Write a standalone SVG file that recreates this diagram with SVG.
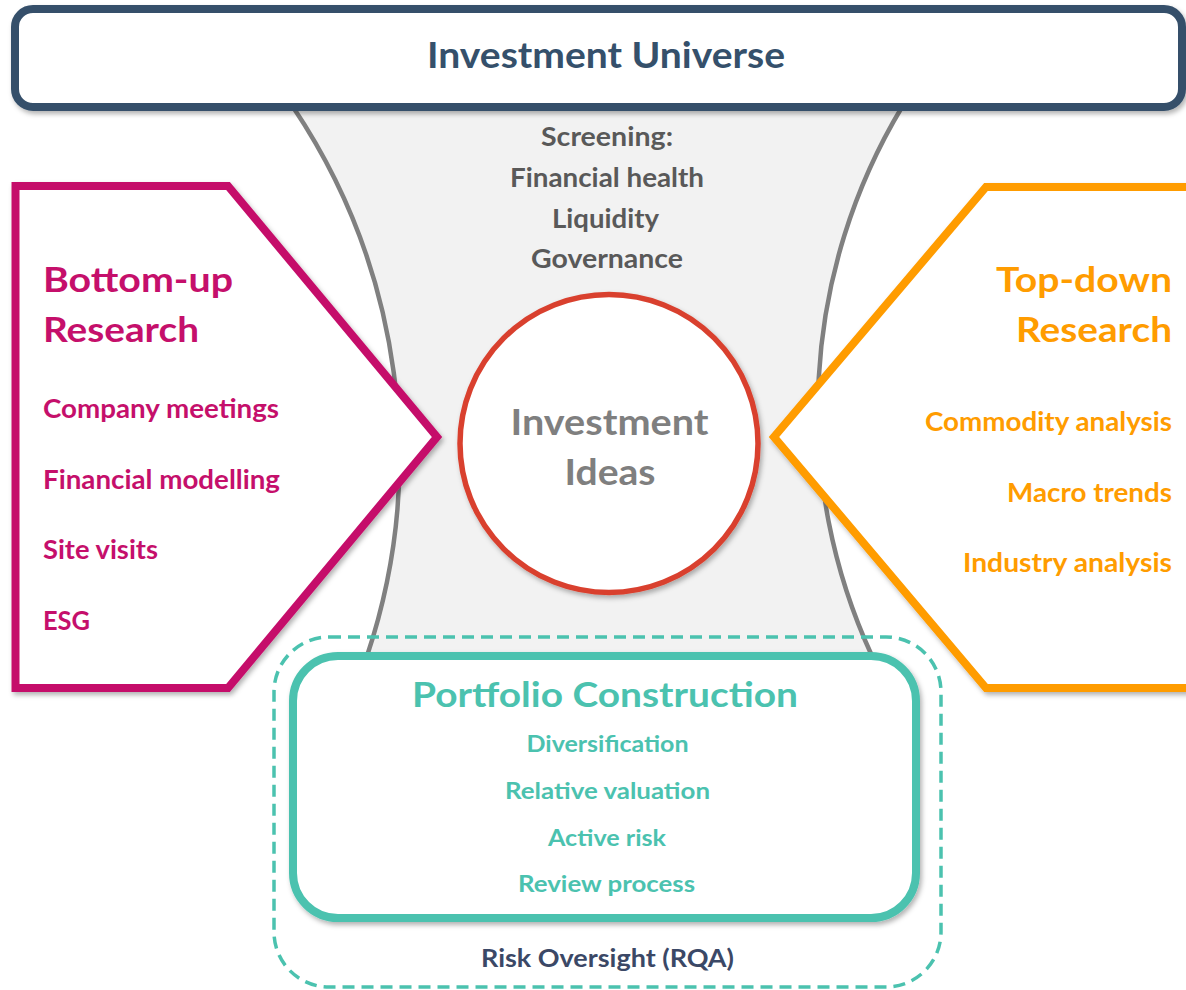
<svg xmlns="http://www.w3.org/2000/svg" width="1186" height="990" viewBox="0 0 1186 990">
  <defs>
    <filter id="shadow" x="-10%" y="-10%" width="125%" height="125%">
      <feDropShadow dx="2" dy="3" stdDeviation="2.5" flood-color="#000000" flood-opacity="0.3"/>
    </filter>
    <style>
      text { font-family: Lato, "Open Sans", "Liberation Sans", sans-serif; font-weight: 700; }
      .mid { text-anchor: middle; }
      .end { text-anchor: end; }
      .title { font-size: 34px; }
      .item { font-size: 26px; }
      .screen { font-size: 26px; fill: #595959; }
      .pc { font-size: 23px; fill: #4BC2AF; }
      .funnel-edge { fill: none; stroke: #808080; stroke-width: 4.5; }
    </style>
  </defs>

  <rect width="1186" height="990" fill="#FFFFFF"/>

  <!-- screening funnel between the universe bar and the portfolio box -->
  <g id="funnel">
    <path d="M293,107 A628,628 0 0 1 367,656 L872,656 A587,587 0 0 1 902,107 Z" fill="#F2F2F2"/>
    <path class="funnel-edge" d="M293,107 A628,628 0 0 1 367,656"/>
    <path class="funnel-edge" d="M872,656 A587,587 0 0 1 902,107"/>
    <text class="screen mid" x="607" y="146" textLength="132" lengthAdjust="spacingAndGlyphs">Screening:</text>
    <text class="screen mid" x="607" y="187" textLength="194" lengthAdjust="spacingAndGlyphs">Financial health</text>
    <text class="screen mid" x="605.5" y="228" textLength="107" lengthAdjust="spacingAndGlyphs">Liquidity</text>
    <text class="screen mid" x="607" y="268" textLength="152" lengthAdjust="spacingAndGlyphs">Governance</text>
  </g>

  <!-- top bar -->
  <g id="investment-universe">
    <rect x="15" y="9" width="1167" height="98" rx="18" ry="18" fill="#FFFFFF" stroke="#35506B" stroke-width="8" filter="url(#shadow)"/>
    <text class="mid" x="606" y="68" font-size="37" fill="#35506B" textLength="358" lengthAdjust="spacingAndGlyphs">Investment Universe</text>
  </g>

  <!-- left arrow panel -->
  <g id="bottom-up-research">
    <polygon points="15.5,186 228,186 437,437 228,688 15.5,688" fill="#FFFFFF" stroke="#C50F6B" stroke-width="8" stroke-linejoin="miter" filter="url(#shadow)"/>
    <g fill="#C50F6B">
      <text class="title" x="43" y="292" textLength="190" lengthAdjust="spacingAndGlyphs">Bottom-up</text>
      <text class="title" x="43" y="342" textLength="156" lengthAdjust="spacingAndGlyphs">Research</text>
      <text class="item" x="43" y="418" textLength="236" lengthAdjust="spacingAndGlyphs">Company meetings</text>
      <text class="item" x="43" y="489" textLength="237" lengthAdjust="spacingAndGlyphs">Financial modelling</text>
      <text class="item" x="43" y="559" textLength="115" lengthAdjust="spacingAndGlyphs">Site visits</text>
      <text class="item" x="43" y="630" textLength="47" lengthAdjust="spacingAndGlyphs">ESG</text>
    </g>
  </g>

  <!-- right arrow panel -->
  <g id="top-down-research">
    <polygon points="1200,187 986,187 774,437 986,688 1200,688" fill="#FFFFFF" stroke="#FF9C00" stroke-width="8" stroke-linejoin="miter" filter="url(#shadow)"/>
    <g fill="#FF9C00">
      <text class="title end" x="1172" y="292" textLength="176" lengthAdjust="spacingAndGlyphs">Top-down</text>
      <text class="title end" x="1172" y="342" textLength="156" lengthAdjust="spacingAndGlyphs">Research</text>
      <text class="item end" x="1172" y="431" textLength="247" lengthAdjust="spacingAndGlyphs">Commodity analysis</text>
      <text class="item end" x="1172" y="502" textLength="165" lengthAdjust="spacingAndGlyphs">Macro trends</text>
      <text class="item end" x="1172" y="572" textLength="209" lengthAdjust="spacingAndGlyphs">Industry analysis</text>
    </g>
  </g>

  <!-- centre circle -->
  <g id="investment-ideas">
    <circle cx="609" cy="443.5" r="149" fill="#FFFFFF" stroke="#D9412F" stroke-width="5.5" filter="url(#shadow)"/>
    <text class="mid" x="609.5" y="435" font-size="36" fill="#7F7F7F" textLength="198" lengthAdjust="spacingAndGlyphs">Investment</text>
    <text class="mid" x="610" y="485" font-size="36" fill="#7F7F7F" textLength="91" lengthAdjust="spacingAndGlyphs">Ideas</text>
  </g>

  <!-- dashed oversight frame -->
  <g id="risk-oversight">
    <rect x="274" y="637" width="667" height="350" rx="55" ry="55" fill="none" stroke="#4BC2AF" stroke-width="3.5" stroke-dasharray="12 7"/>
    <text class="mid" x="607.5" y="966.5" font-size="25" fill="#3B4866" textLength="253" lengthAdjust="spacingAndGlyphs">Risk Oversight (RQA)</text>
  </g>

  <!-- portfolio box -->
  <g id="portfolio-construction">
    <rect x="293" y="656" width="623" height="262" rx="45" ry="45" fill="#FFFFFF" stroke="#4BC2AF" stroke-width="8" filter="url(#shadow)"/>
    <text class="mid" x="605" y="706.5" font-size="35" fill="#4BC2AF" textLength="386" lengthAdjust="spacingAndGlyphs">Portfolio Construction</text>
    <text class="pc mid" x="607.5" y="751.5" textLength="162" lengthAdjust="spacingAndGlyphs">Diversification</text>
    <text class="pc mid" x="607.5" y="798.5" textLength="205" lengthAdjust="spacingAndGlyphs">Relative valuation</text>
    <text class="pc mid" x="607" y="845.5" textLength="118" lengthAdjust="spacingAndGlyphs">Active risk</text>
    <text class="pc mid" x="606.5" y="892" textLength="177" lengthAdjust="spacingAndGlyphs">Review process</text>
  </g>
</svg>
